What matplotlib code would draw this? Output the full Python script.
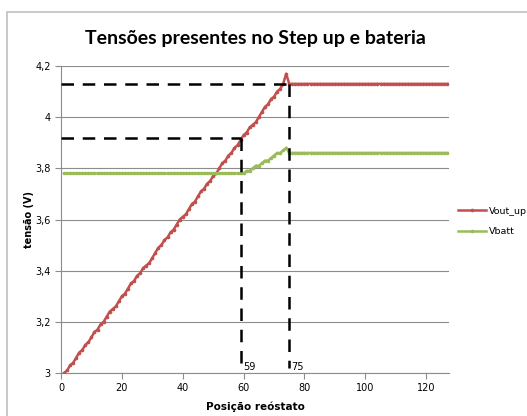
import matplotlib
matplotlib.use('Agg')
import matplotlib.pyplot as plt
import matplotlib.patches as mpatches
from matplotlib.ticker import FuncFormatter, MultipleLocator

# reostat positions 1..127
positions = list(range(1, 128))

vout_up = [
    3.00, 3.01, 3.03, 3.04, 3.06, 3.08, 3.09, 3.11, 3.12, 3.14,
    3.16, 3.17, 3.19, 3.20, 3.22, 3.24, 3.25, 3.26, 3.28, 3.30,
    3.31, 3.33, 3.35, 3.36, 3.38, 3.39, 3.41, 3.42, 3.43, 3.45,
    3.47, 3.49, 3.50, 3.52, 3.53, 3.55, 3.56, 3.58, 3.60, 3.61,
    3.62, 3.64, 3.66, 3.67, 3.69, 3.71, 3.72, 3.74, 3.75, 3.77,
    3.78, 3.80, 3.82, 3.83, 3.85, 3.86, 3.88, 3.89, 3.91, 3.93,
    3.94, 3.96, 3.97, 3.98, 4.00, 4.02, 4.04, 4.05, 4.07, 4.08,
    4.10, 4.11, 4.13, 4.17,
] + [4.13] * 53

vbatt = [3.78] * 60 + [
    3.79, 3.79, 3.80, 3.81, 3.81, 3.82, 3.83, 3.83, 3.84, 3.85,
    3.86, 3.86, 3.87, 3.88,
] + [3.86] * 53

# reference markers (position, voltage)
marks = [(59, 3.92), (75, 4.13)]

W, H = 527, 416
fig = plt.figure(figsize=(W / 100, H / 100), dpi=100)
fig.patch.set_facecolor('white')

# chart border like the Excel chart area
fig.patches.append(mpatches.Rectangle(
    (7 / W, -0.2), 2, 1 - 12 / H + 0.2, transform=fig.transFigure,
    fill=False, edgecolor='#c0c0c0', linewidth=1.2))

ax = fig.add_axes([61 / W, 1 - 373 / H, 388 / W, 307 / H])

ax.plot(positions, vout_up, color='#c0504d', linewidth=1.8,
        marker='o', markersize=1.6, label='Vout_up', zorder=3)
ax.plot(positions, vbatt, color='#9bbb59', linewidth=1.8,
        marker='o', markersize=1.6, label='Vbatt', zorder=3)

for xv, yv in marks:
    ax.plot([0, xv], [yv, yv], color='black', linewidth=1.8,
            linestyle=(0, (5, 3.5)), zorder=4)
    ax.plot([xv, xv], [yv, 3.02], color='black', linewidth=1.8,
            linestyle=(0, (5, 3.5)), zorder=4)
    ax.text(xv + 0.8, 3.005, str(xv), fontsize=7, ha='left', va='bottom')

ax.set_xlim(0, 127.5)
ax.set_ylim(3, 4.2)
ax.xaxis.set_major_locator(MultipleLocator(20))
ax.yaxis.set_major_locator(MultipleLocator(0.2))
ax.yaxis.set_major_formatter(FuncFormatter(
    lambda v, p: ('%.1f' % v).rstrip('0').rstrip('.').replace('.', ',')))

ax.grid(axis='y', color='#8c8c8c', linewidth=0.8)
ax.set_axisbelow(True)
for s in ['top', 'right']:
    ax.spines[s].set_visible(False)
for s in ['left', 'bottom']:
    ax.spines[s].set_color('#8c8c8c')
ax.tick_params(colors='#8c8c8c', labelcolor='black', labelsize=7,
               length=4, width=0.8)

ax.set_title('Tensões presentes no Step up e bateria', fontsize=14,
             fontweight='bold', family='Lato', pad=16)
ax.set_xlabel('Posição reóstato', fontsize=7.5, fontweight='bold',
              labelpad=6)
ax.set_ylabel('tensão (V)', fontsize=7, fontweight='bold')
ax.yaxis.set_label_coords(-0.07, 0.5)

ax.legend(loc='upper left', bbox_to_anchor=(449 / W, 1 - 198 / H),
          bbox_transform=fig.transFigure, frameon=False, fontsize=6.8,
          handlelength=3.0, handletextpad=0.3, labelspacing=1.2)

fig.savefig('out.png', dpi=100)
